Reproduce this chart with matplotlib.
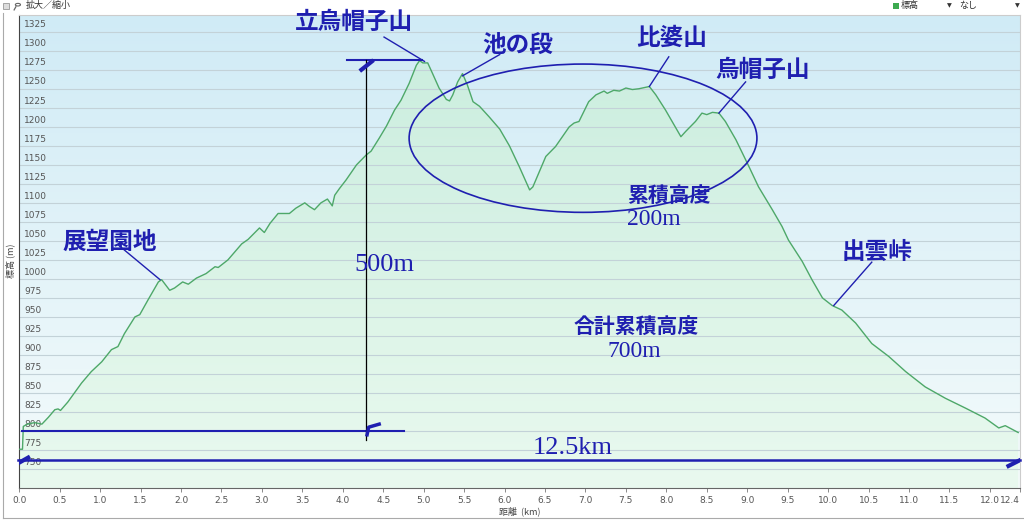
import numpy as np
import matplotlib
matplotlib.use("Agg")
import matplotlib.pyplot as plt
from matplotlib.patches import Ellipse, Rectangle, Circle
from matplotlib.colors import LinearSegmentedColormap

plt.rcParams['font.family'] = ['Noto Sans CJK JP', 'DejaVu Sans']

# elevation profile
distance_km = [0.00, 0.04, 0.05, 0.10, 0.19, 0.28, 0.36, 0.44, 0.48, 0.51, 0.60, 0.77,
               0.89, 1.02, 1.14, 1.22, 1.30, 1.43, 1.49, 1.59, 1.72, 1.76, 1.86, 1.92,
               2.02, 2.09, 2.19, 2.31, 2.42, 2.46, 2.58, 2.75, 2.83, 2.97, 3.03, 3.10,
               3.20, 3.34, 3.42, 3.53, 3.59, 3.65, 3.73, 3.81, 3.87, 3.90, 3.96, 4.04,
               4.17, 4.29, 4.35, 4.45, 4.54, 4.64, 4.72, 4.82, 4.91, 4.95, 4.99, 5.05,
               5.11, 5.19, 5.28, 5.32, 5.36, 5.42, 5.48, 5.54, 5.61, 5.69, 5.81, 5.94,
               6.06, 6.18, 6.31, 6.35, 6.51, 6.63, 6.80, 6.86, 6.92, 7.04, 7.13, 7.23,
               7.27, 7.35, 7.42, 7.50, 7.58, 7.66, 7.79, 7.87, 7.99, 8.18, 8.24, 8.36,
               8.44, 8.50, 8.57, 8.65, 8.73, 8.86, 9.02, 9.14, 9.31, 9.43, 9.51, 9.68,
               9.80, 9.93, 10.05, 10.17, 10.34, 10.54, 10.75, 10.96, 11.20, 11.45, 11.70,
               11.94, 12.11, 12.19, 12.35]
elevation_m = [776, 776, 806, 809, 811, 809, 818, 828, 829, 827, 838, 863,
               878, 891, 907, 911, 928, 950, 953, 972, 996, 999, 985, 988,
               996, 993, 1001, 1007, 1016, 1015, 1025, 1046, 1052, 1067, 1061, 1073,
               1086, 1086, 1093, 1100, 1095, 1091, 1100, 1105, 1096, 1110, 1119, 1130,
               1150, 1163, 1168, 1185, 1201, 1222, 1235, 1257, 1281, 1287, 1284, 1284,
               1270, 1251, 1236, 1234, 1242, 1259, 1270, 1255, 1233, 1227, 1213, 1197,
               1175, 1148, 1117, 1121, 1161, 1174, 1200, 1205, 1207, 1233, 1242, 1247,
               1244, 1248, 1247, 1251, 1249, 1250, 1253, 1242, 1222, 1187, 1194, 1207,
               1218, 1216, 1219, 1218, 1207, 1183, 1148, 1121, 1091, 1069, 1051, 1023,
               999, 975, 965, 959, 942, 915, 898, 878, 858, 843, 830,
               817, 804, 807, 798]

x_ticks = [0.0, 0.5, 1.0, 1.5, 2.0, 2.5, 3.0, 3.5, 4.0, 4.5, 5.0, 5.5, 6.0,
           6.5, 7.0, 7.5, 8.0, 8.5, 9.0, 9.5, 10.0, 10.5, 11.0, 11.5, 12.0]
x_end = 12.37
y_ticks = list(range(750, 1326, 25))

# place names: label, text position, leader line start and end
peaks = [("立烏帽子山", (4.14, 1338), (4.51, 1318), (5.01, 1286)),
         ("池の段", (6.16, 1308), (5.94, 1295), (5.48, 1267)),
         ("比婆山", (8.06, 1317), (8.03, 1292), (7.79, 1253)),
         ("烏帽子山", (9.19, 1275), (8.98, 1259), (8.65, 1218)),
         ("展望園地", (1.12, 1049), (1.22, 1045), (1.74, 999)),
         ("出雲峠", (10.61, 1035), (10.54, 1022), (10.07, 965))]

navy = "#1f1fb0"

fig = plt.figure(figsize=(10.24, 5.21), dpi=100)
ax = fig.add_axes([0.0188, 0.0633, 0.9771, 0.9079])
ymin, ymax = 725, 1347
ax.set_xlim(0, x_end)
ax.set_ylim(ymin, ymax)

# background gradient
bg = LinearSegmentedColormap.from_list("bg", ["#f4fbfb", "#d0ebf6"])
grad = np.linspace(0, 1, 256).reshape(-1, 1)
ax.imshow(grad, cmap=bg, origin="lower", aspect="auto",
          extent=[0, x_end, ymin, ymax], zorder=0)

# filled area under the profile, green gradient
poly = ax.fill_between(distance_km, elevation_m, ymin, color="none", zorder=1)
gr = LinearSegmentedColormap.from_list("gr", ["#e8f9ee", "#c9eedb"])
im = ax.imshow(grad, cmap=gr, origin="lower", aspect="auto",
               extent=[0, x_end, ymin, ymax], zorder=1, alpha=0.9)
im.set_clip_path(poly.get_paths()[0], transform=ax.transData)

for yv in y_ticks:
    ax.axhline(yv, color="#c3d2d8", lw=0.8, zorder=2)
    ax.text(0.06, yv + 3, str(yv), fontsize=6.5, color="#555555",
            family="DejaVu Sans", va="bottom", ha="left", zorder=3)

ax.plot(distance_km, elevation_m, color="#4ea869", lw=1.0, zorder=4)

ax.set_yticks([])
ax.set_xticks(x_ticks + [x_end])
labels = ["%.1f" % t for t in x_ticks] + ["12.4"]
ax.set_xticklabels(labels, fontsize=6.5, color="#555555", family="DejaVu Sans")
ax.get_xticklabels()[-1].set_ha("right")
ax.tick_params(axis="x", length=3, width=0.6, color="#777777", pad=3)
ax.spines["left"].set_color("#444444")
ax.spines["bottom"].set_color("#666666")
ax.spines["top"].set_color("#cccccc")
ax.spines["right"].set_color("#cccccc")
ax.set_xlabel("距離  (km)", fontsize=6.5, color="#444444", labelpad=1)
fig.text(0.010, 0.50, "標高 (m)", rotation=90, fontsize=6.5, color="#444444",
         ha="center", va="center")

# hand drawn annotations
for name, txt, a, b in peaks:
    ax.text(txt[0], txt[1], name, fontsize=17, color=navy, fontweight="bold",
            ha="center", va="center", zorder=6)
    ax.plot([a[0], b[0]], [a[1], b[1]], color=navy, lw=1.0, zorder=6)

ax.add_patch(Ellipse((6.97, 1185), 4.30, 195, fill=False, ec=navy, lw=1.2, zorder=6))
ax.text(7.51, 1110, "累積高度", fontsize=15, color=navy, fontweight="bold",
        ha="left", va="center", zorder=6)
ax.text(7.51, 1078, "200m", fontsize=17, color=navy, family="Liberation Serif",
        ha="left", va="center", zorder=6)
ax.text(7.63, 938, "合計累積高度", fontsize=15, color=navy, fontweight="bold",
        ha="center", va="center", zorder=6)
ax.text(7.61, 904, "700m", fontsize=17, color=navy, family="Liberation Serif",
        ha="center", va="center", zorder=6)
ax.text(4.51, 1018, "500m", fontsize=19, color=navy, family="Liberation Serif",
        ha="center", va="center", zorder=6)
ax.text(6.84, 777, "12.5km", fontsize=19, color=navy, family="Liberation Serif",
        ha="center", va="center", zorder=6)

ax.plot([0.03, 4.76], [800, 800], color=navy, lw=1.5, zorder=5)
ax.plot([4.05, 4.98], [1288, 1288], color=navy, lw=1.5, zorder=5)
ax.plot([4.29, 4.29], [1288, 788], color="black", lw=0.9, zorder=5)
ax.plot([-0.02, x_end], [762, 762], color=navy, lw=1.8, zorder=5, clip_on=False)
ax.plot([4.30, 4.32, 4.45], [795, 805, 809], color=navy, lw=2.5, zorder=6)
ax.plot([4.23, 4.36], [1275, 1286], color=navy, lw=3, zorder=6)
ax.plot([0.01, 0.11], [759, 765], color=navy, lw=3, zorder=6)
ax.plot([12.23, 12.36], [754, 761], color=navy, lw=3, zorder=6)

# toolbar and window frame
fig.add_artist(Rectangle((0.003, 0.983), 0.006, 0.012, transform=fig.transFigure,
                         fc="#dddddd", ec="#999999", lw=0.6))
fig.add_artist(Circle((0.0175, 0.991), 0.0025, transform=fig.transFigure,
                      fill=False, ec="#666666", lw=0.8))
fig.add_artist(plt.Line2D([0.0155, 0.0138], [0.987, 0.981], transform=fig.transFigure,
                          color="#666666", lw=0.9))
fig.text(0.025, 0.989, "拡大／縮小", fontsize=6.5, color="#333333", va="center")
fig.add_artist(Rectangle((0.872, 0.983), 0.006, 0.011, transform=fig.transFigure,
                         fc="#3caa50", ec="none"))
fig.text(0.880, 0.989, "標高", fontsize=6.5, color="#333333", va="center")
fig.text(0.925, 0.989, "▼", fontsize=4.5, color="#333333", va="center", family="DejaVu Sans")
fig.text(0.937, 0.989, "なし", fontsize=6.5, color="#333333", va="center")
fig.text(0.991, 0.989, "▼", fontsize=4.5, color="#333333", va="center", family="DejaVu Sans")
fig.add_artist(plt.Line2D([0.003, 0.003], [0.005, 0.975], transform=fig.transFigure,
                          color="#aaaaaa", lw=0.8))
fig.add_artist(plt.Line2D([0.003, 0.999], [0.005, 0.005], transform=fig.transFigure,
                          color="#aaaaaa", lw=0.8))

fig.savefig("out.png", dpi=100)
